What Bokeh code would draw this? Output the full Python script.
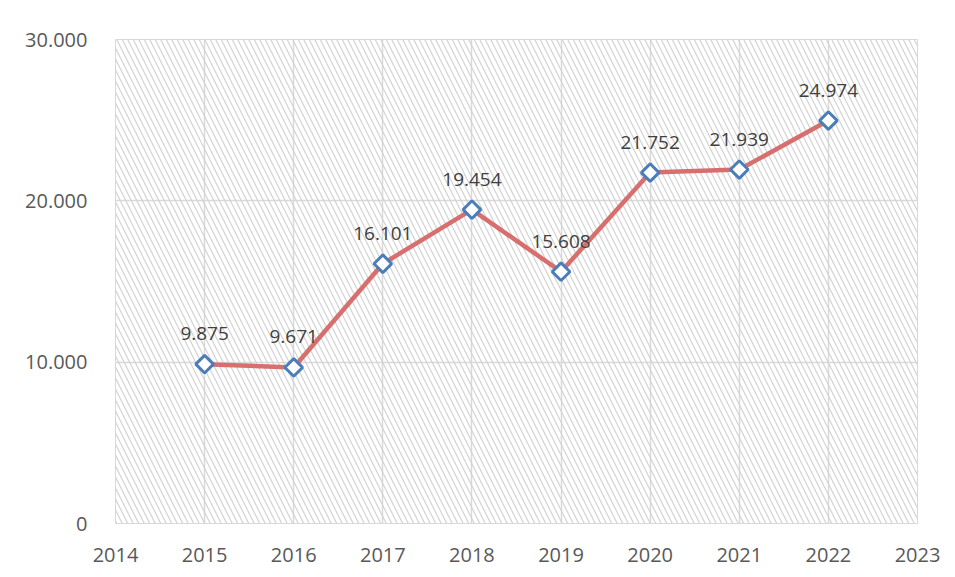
import math
from bokeh.plotting import figure
from bokeh.models import ColumnDataSource, FixedTicker, BoxAnnotation, LabelSet
from bokeh.core.properties import value
from bokeh.embed import file_html
from bokeh.resources import INLINE

years = [2015, 2016, 2017, 2018, 2019, 2020, 2021, 2022]
values = [9875, 9671, 16101, 19454, 15608, 21752, 21939, 24974]
value_labels = ["9.875", "9.671", "16.101", "19.454", "15.608", "21.752", "21.939", "24.974"]
x_ticks = [2014, 2015, 2016, 2017, 2018, 2019, 2020, 2021, 2022, 2023]
y_ticks = [0, 10000, 20000, 30000]
y_tick_labels = ["0", "10.000", "20.000", "30.000"]

FONT = "Open Sans"

p = figure(width=947, height=569, output_backend="svg", toolbar_location=None,
           x_range=(2014, 2023), y_range=(0, 30000),
           min_border_left=115, min_border_right=30, min_border_top=39, min_border_bottom=46)

p.background_fill_color = "white"
p.border_fill_color = "white"
p.outline_line_color = "#d9d9d9"
p.outline_line_width = 1

hatch = BoxAnnotation(left=2014, right=2023, bottom=0, top=30000,
                      fill_alpha=0, line_alpha=0, level="underlay",
                      hatch_pattern="\\", hatch_color="#d2d2d2", hatch_scale=11,
                      hatch_weight=1.2, hatch_alpha=1.0)
p.add_layout(hatch)

p.xaxis.ticker = FixedTicker(ticks=x_ticks)
p.yaxis.ticker = FixedTicker(ticks=y_ticks)
p.yaxis.major_label_overrides = {t: l for t, l in zip(y_ticks, y_tick_labels)}
p.xaxis.major_label_overrides = {t: str(t) for t in x_ticks}

for ax in (p.xaxis, p.yaxis):
    ax.axis_line_color = None
    ax.major_tick_line_color = None
    ax.minor_tick_line_color = None
    ax.major_label_text_font = FONT
    ax.major_label_text_font_size = "20px"
    ax.major_label_text_color = "#595959"
p.yaxis.major_label_standoff = 22
p.xaxis.major_label_standoff = 18

p.xgrid.grid_line_color = "#d9d9d9"
p.ygrid.grid_line_color = "#d9d9d9"
p.xgrid.grid_line_width = 1.5
p.ygrid.grid_line_width = 1.5

src = ColumnDataSource(dict(x=years, y=values, lab=value_labels))
p.line("x", "y", source=src, line_color="#d86f6f", line_width=4.5)
p.scatter("x", "y", source=src, marker="square", angle=math.pi / 4, size=12.5,
          fill_color="white", line_color="#4a7ebb", line_width=3)

labels = LabelSet(x="x", y="y", text="lab", source=src, y_offset=24,
                  text_align="center", text_baseline="bottom",
                  text_font=value(FONT), text_font_size="19px", text_color="#404040")
p.add_layout(labels)

open("out.html", "w").write(file_html(p, INLINE))
